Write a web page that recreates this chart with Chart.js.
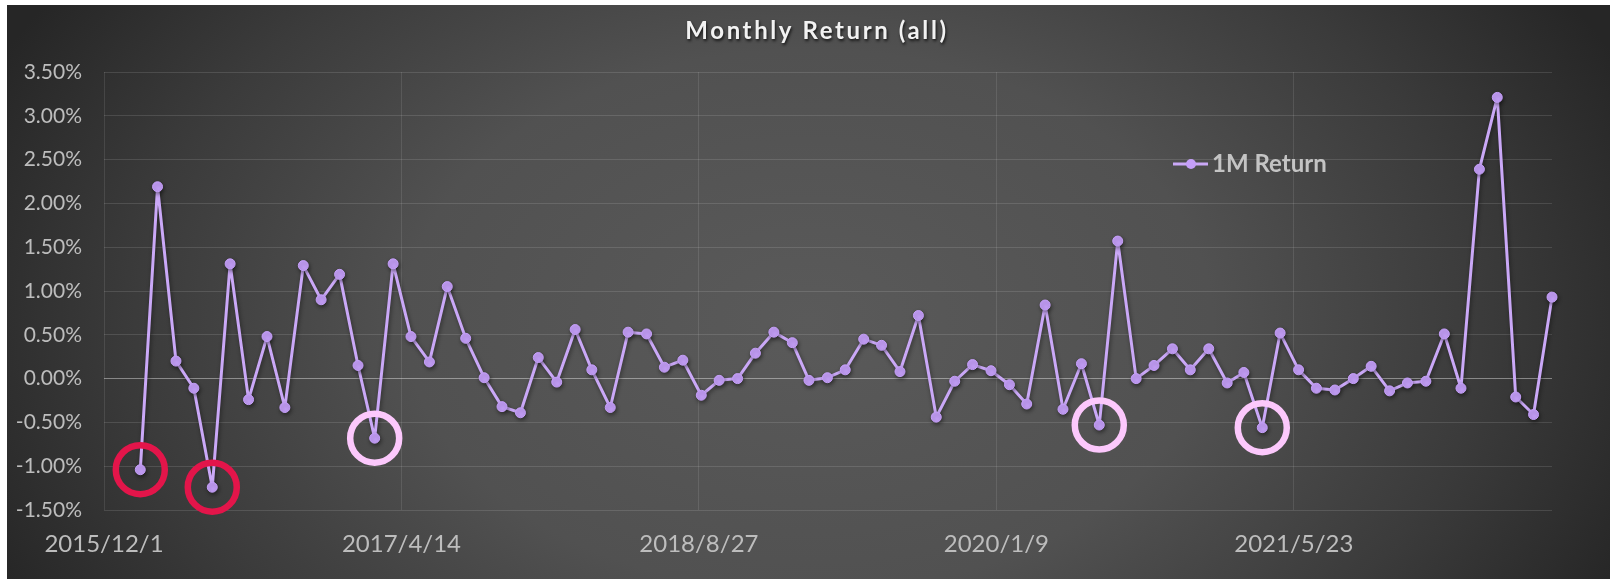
<!DOCTYPE html>
<html>
<head>
<meta charset="utf-8">
<title>Monthly Return (all)</title>
<script src="https://cdn.jsdelivr.net/npm/chart.js@4.4.1/dist/chart.umd.min.js"></script>
<style>
    html, body { margin: 0; padding: 0; background: #fff; }
    #marco {
        position: absolute; left: 7px; top: 5px; width: 1603px; height: 574px;
        background: radial-gradient(ellipse 56% 105% at 50% 55%, #5a5a5a 0%, #515151 45%, #3b3b3b 75%, #262626 100%);
    }
</style>
</head>
<body>
<div id="marco"><canvas id="grafico"></canvas></div>
<script>
// Fechas de cada punto (fin de mes)
const fechas = [
    '2016/1/31', '2016/2/29', '2016/3/31', '2016/4/30', '2016/5/31', '2016/6/30', '2016/7/31', '2016/8/31', '2016/9/30', '2016/10/31', '2016/11/30', '2016/12/31',
    '2017/1/31', '2017/2/28', '2017/3/31', '2017/4/30', '2017/5/31', '2017/6/30', '2017/7/31', '2017/8/31', '2017/9/30', '2017/10/31', '2017/11/30', '2017/12/31',
    '2018/1/31', '2018/2/28', '2018/3/31', '2018/4/30', '2018/5/31', '2018/6/30', '2018/7/31', '2018/8/31', '2018/9/30', '2018/10/31', '2018/11/30', '2018/12/31',
    '2019/1/31', '2019/2/28', '2019/3/31', '2019/4/30', '2019/5/31', '2019/6/30', '2019/7/31', '2019/8/31', '2019/9/30', '2019/10/31', '2019/11/30', '2019/12/31',
    '2020/1/31', '2020/2/29', '2020/3/31', '2020/4/30', '2020/5/31', '2020/6/30', '2020/7/31', '2020/8/31', '2020/9/30', '2020/10/31', '2020/11/30', '2020/12/31',
    '2021/1/31', '2021/2/28', '2021/3/31', '2021/4/30', '2021/5/31', '2021/6/30', '2021/7/31', '2021/8/31', '2021/9/30', '2021/10/31', '2021/11/30', '2021/12/31',
    '2022/1/31', '2022/2/28', '2022/3/31', '2022/4/30', '2022/5/31', '2022/6/30', '2022/7/31'
];

// Rentabilidad mensual en %
const rentabilidad = [
    -1.04, 2.19, 0.20, -0.11, -1.24, 1.31, -0.24, 0.48, -0.33, 1.29, 0.90, 1.19,
    0.15, -0.68, 1.31, 0.48, 0.19, 1.05, 0.46, 0.01, -0.32, -0.39, 0.24, -0.04,
    0.56, 0.10, -0.33, 0.53, 0.51, 0.13, 0.21, -0.19, -0.02, 0.00, 0.29, 0.53,
    0.41, -0.02, 0.01, 0.10, 0.45, 0.38, 0.08, 0.72, -0.44, -0.03, 0.16, 0.09,
    -0.07, -0.29, 0.84, -0.35, 0.17, -0.53, 1.57, 0.00, 0.15, 0.34, 0.10, 0.34,
    -0.05, 0.07, -0.56, 0.52, 0.10, -0.11, -0.13, 0.00, 0.14, -0.14, -0.05, -0.03,
    0.51, -0.11, 2.39, 3.21, -0.21, -0.41, 0.93
];

// Etiquetas del eje X (cada 500 días)
const ticksEjeX = ['2015/12/1', '2017/4/14', '2018/8/27', '2020/1/9', '2021/5/23'];

// Puntos resaltados con un círculo
const circulosRojos = [0, 4];
const circulosRosas = [13, 53, 62];

const tituloGrafico = 'Monthly Return (all)';
const nombreSerie = '1M Return';

const colorLinea = '#caa8f7';
const colorPunto = '#c59ff9';

function aDias(texto) {
    const [a, m, d] = texto.split('/').map(Number);
    return Date.UTC(a, m - 1, d) / 86400000;
}

function aTexto(dias) {
    const f = new Date(dias * 86400000);
    return f.getUTCFullYear() + '/' + (f.getUTCMonth() + 1) + '/' + f.getUTCDate();
}

const puntos = fechas.map((f, i) => ({ x: aDias(f), y: rentabilidad[i] }));
const marcados = lista => lista.map(i => puntos[i]);

// Sombra suave bajo la serie, como en Excel
const sombraSerie = {
    id: 'sombraSerie',
    beforeDatasetDraw(chart, args) {
        if (args.index !== 0) return;
        const c = chart.ctx;
        c.save();
        c.shadowColor = 'rgba(0, 0, 0, 0.45)';
        c.shadowBlur = 4;
        c.shadowOffsetX = 1;
        c.shadowOffsetY = 2;
    },
    afterDatasetDraw(chart, args) {
        if (args.index === 0) chart.ctx.restore();
    }
};

// Título con espaciado entre letras
const tituloExcel = {
    id: 'tituloExcel',
    afterDraw(chart) {
        const c = chart.ctx;
        c.save();
        c.font = 'bold 24px Lato';
        c.letterSpacing = '2.6px';
        c.fillStyle = '#f2f2f2';
        c.textAlign = 'center';
        c.textBaseline = 'alphabetic';
        c.shadowColor = 'rgba(0, 0, 0, 0.75)';
        c.shadowBlur = 3;
        c.shadowOffsetX = 1;
        c.shadowOffsetY = 2;
        c.fillText(tituloGrafico, 810, 34);
        c.restore();
    }
};

// Leyenda flotante dentro del área del gráfico
const leyendaFlotante = {
    id: 'leyendaFlotante',
    afterDraw(chart) {
        const c = chart.ctx;
        const serie = chart.data.datasets[0];
        const y = 159;
        c.save();
        c.strokeStyle = serie.borderColor;
        c.lineWidth = 3;
        c.beginPath();
        c.moveTo(1166, y);
        c.lineTo(1201, y);
        c.stroke();
        c.fillStyle = serie.pointBackgroundColor;
        c.beginPath();
        c.arc(1184, y, 5, 0, Math.PI * 2);
        c.fill();
        c.font = 'bold 24px Lato';
        c.fillStyle = '#c4c4c4';
        c.textAlign = 'left';
        c.textBaseline = 'alphabetic';
        c.fillText(serie.label, 1205, 167);
        c.restore();
    }
};

const ctx = document.getElementById('grafico').getContext('2d');

new Chart(ctx, {
    type: 'line',
    data: {
        datasets: [
            {
                label: nombreSerie,
                data: puntos,
                borderColor: colorLinea,
                borderWidth: 3,
                borderJoinStyle: 'round',
                borderCapStyle: 'round',
                pointRadius: 5,
                pointBackgroundColor: colorPunto,
                pointBorderColor: colorPunto,
                pointBorderWidth: 1,
                tension: 0,
                clip: false,
                order: 2
            },
            {
                label: 'rojos',
                data: marcados(circulosRojos),
                showLine: false,
                pointRadius: 24.5,
                pointBorderWidth: 6.5,
                pointBorderColor: '#e3154a',
                pointBackgroundColor: 'rgba(0, 0, 0, 0)',
                clip: false,
                order: 1
            },
            {
                label: 'rosas',
                data: marcados(circulosRosas),
                showLine: false,
                pointRadius: 24.5,
                pointBorderWidth: 6.5,
                pointBorderColor: '#fcc8fc',
                pointBackgroundColor: 'rgba(0, 0, 0, 0)',
                clip: false,
                order: 1
            }
        ]
    },
    options: {
        animation: false,
        responsive: true,
        maintainAspectRatio: false,
        events: [],
        layout: { padding: { top: 67, right: 58, bottom: 0, left: 0 } },
        plugins: {
            legend: { display: false },
            title: { display: false },
            tooltip: { enabled: false }
        },
        scales: {
            x: {
                type: 'linear',
                min: aDias(ticksEjeX[0]),
                max: puntos[puntos.length - 1].x,
                afterBuildTicks: eje => { eje.ticks = ticksEjeX.map(t => ({ value: aDias(t) })); },
                afterFit: eje => { eje.height = 69; },
                ticks: {
                    color: '#bdbdbd',
                    font: { family: 'Lato', size: 24 },
                    padding: 20,
                    maxRotation: 0,
                    autoSkip: false,
                    callback: v => aTexto(v)
                },
                grid: { color: 'rgba(255, 255, 255, 0.1)', drawTicks: false },
                border: { display: false }
            },
            y: {
                min: -1.5,
                max: 3.5,
                afterFit: eje => { eje.width = 97; },
                ticks: {
                    stepSize: 0.5,
                    color: '#bdbdbd',
                    font: { family: 'Lato', size: 21 },
                    padding: 22,
                    callback: v => v.toFixed(2) + '%'
                },
                grid: {
                    color: c => c.tick.value === 0 ? 'rgba(255, 255, 255, 0.4)' : 'rgba(255, 255, 255, 0.12)',
                    drawTicks: false
                },
                border: { display: false }
            }
        }
    },
    plugins: [sombraSerie, tituloExcel, leyendaFlotante]
});
</script>
</body>
</html>
